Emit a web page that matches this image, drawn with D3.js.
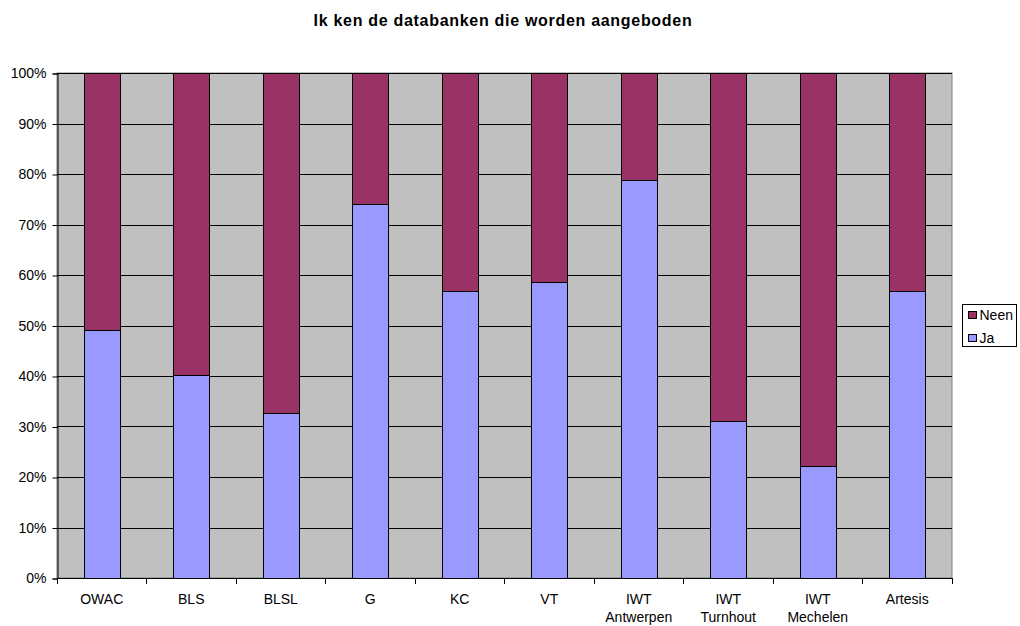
<!DOCTYPE html>
<html>
<head>
<meta charset="utf-8">
<script src="https://cdn.jsdelivr.net/npm/d3@7"></script>
<style>
  html, body { margin: 0; padding: 0; background: #ffffff; }
  svg { display: block; font-family: Arial, "Liberation Sans", sans-serif; }
</style>
</head>
<body>
<svg id="chart" width="1020" height="626"></svg>
<script>
// Share of respondents who know the offered databases, per institution
const categories = ["OWAC", "BLS", "BLSL", "G", "KC", "VT", "IWT Antwerpen", "IWT Turnhout", "IWT Mechelen", "Artesis"];
const jaValues   = [0.492, 0.401, 0.327, 0.740, 0.569, 0.586, 0.788, 0.311, 0.221, 0.568];
const neenValues = jaValues.map(v => 1 - v);
const seriesNames = ["Ja", "Neen"];
const seriesColors = ["#9999FF", "#993366"];
const yTicks = [0, 0.1, 0.2, 0.3, 0.4, 0.5, 0.6, 0.7, 0.8, 0.9, 1];
const title = "Ik ken de databanken die worden aangeboden";

const svg = d3.select("#chart");
const plot = { left: 57, right: 952, top: 73, bottom: 578 };

const x = d3.scaleBand()
  .domain(categories)
  .range([plot.left, plot.right])
  .paddingInner(0.6)
  .paddingOuter(0.3);
const y = d3.scaleLinear().domain([0, 1]).range([plot.bottom, plot.top]);

// Plot background
svg.append("rect")
  .attr("x", plot.left).attr("y", plot.top)
  .attr("width", plot.right - plot.left).attr("height", plot.bottom - plot.top)
  .attr("fill", "#C0C0C0").attr("stroke", "#808080").attr("stroke-width", 1);

// Horizontal gridlines
svg.append("g").selectAll("line")
  .data(yTicks.filter(t => t > 0))
  .join("line")
  .attr("x1", plot.left).attr("x2", plot.right)
  .attr("y1", d => Math.round(y(d)) + 0.5).attr("y2", d => Math.round(y(d)) + 0.5)
  .attr("stroke", "#000").attr("stroke-width", 1);

// Stacked bars
const rows = categories.map((c, i) => ({ cat: c, Ja: jaValues[i], Neen: neenValues[i] }));
const stack = d3.stack().keys(seriesNames)(rows);
const color = d3.scaleOrdinal().domain(seriesNames).range(seriesColors);

svg.append("g").selectAll("g")
  .data(stack)
  .join("g")
  .attr("fill", d => color(d.key))
  .selectAll("rect")
  .data(d => d)
  .join("rect")
  .attr("x", d => Math.round(x(d.data.cat)) + 0.5)
  .attr("width", Math.round(x.bandwidth()))
  .attr("y", d => Math.round(y(d[1])) + 0.5)
  .attr("height", d => Math.round(y(d[0])) - Math.round(y(d[1])))
  .attr("stroke", "#000").attr("stroke-width", 1);

// Y axis
const yAxis = d3.axisLeft(y)
  .tickValues(yTicks)
  .tickFormat(d3.format(".0%"))
  .tickSize(5)
  .tickPadding(6);
const yg = svg.append("g")
  .attr("transform", `translate(${plot.left + 0.5},0.5)`)
  .call(yAxis);
yg.select(".domain").attr("stroke", "#000");
yg.selectAll(".tick line").attr("stroke", "#000");
yg.selectAll(".tick text")
  .attr("font-size", 14).attr("fill", "#000")
  .attr("font-family", "Arial, 'Liberation Sans', sans-serif");

// X axis baseline with tick marks at category boundaries
const step = x.step();
const boundaries = categories.map(c => x(c) + x.bandwidth() / 2 - step / 2).concat([plot.right]);
svg.append("line")
  .attr("x1", plot.left).attr("x2", plot.right)
  .attr("y1", plot.bottom + 0.5).attr("y2", plot.bottom + 0.5)
  .attr("stroke", "#000");
svg.append("g").selectAll("line")
  .data(boundaries)
  .join("line")
  .attr("x1", d => Math.round(d) + 0.5).attr("x2", d => Math.round(d) + 0.5)
  .attr("y1", plot.bottom).attr("y2", plot.bottom + 6)
  .attr("stroke", "#000");

// Category labels, wrapped at the first space
const xl = svg.append("g").selectAll("text")
  .data(categories)
  .join("text")
  .attr("x", d => x(d) + x.bandwidth() / 2)
  .attr("y", 604)
  .attr("text-anchor", "middle")
  .attr("font-size", 14)
  .attr("fill", "#000");
xl.each(function (d) {
  const parts = d.indexOf(" ") > 0 ? [d.slice(0, d.indexOf(" ")), d.slice(d.indexOf(" ") + 1)] : [d];
  d3.select(this).selectAll("tspan")
    .data(parts)
    .join("tspan")
    .attr("x", x(d) + x.bandwidth() / 2)
    .attr("dy", (p, i) => i === 0 ? 0 : 17.5)
    .text(p => p);
});

// Title
svg.append("text")
  .attr("x", 503).attr("y", 26)
  .attr("text-anchor", "middle")
  .attr("font-size", 16).attr("font-weight", "bold")
  .attr("letter-spacing", 0.7)
  .attr("fill", "#000")
  .text(title);

// Legend (Neen above Ja)
const legend = svg.append("g").attr("transform", "translate(962.5,304.5)");
legend.append("rect")
  .attr("width", 54).attr("height", 42)
  .attr("fill", "#fff").attr("stroke", "#000");
const legendItems = seriesNames.slice().reverse();
const li = legend.selectAll("g.item")
  .data(legendItems)
  .join("g")
  .attr("class", "item")
  .attr("transform", (d, i) => `translate(6,${7 + i * 23})`);
li.append("rect")
  .attr("width", 8).attr("height", 7)
  .attr("fill", d => color(d)).attr("stroke", "#000");
li.append("text")
  .attr("x", 11).attr("y", 8)
  .attr("font-size", 14).attr("fill", "#000")
  .text(d => d);
</script>
</body>
</html>
